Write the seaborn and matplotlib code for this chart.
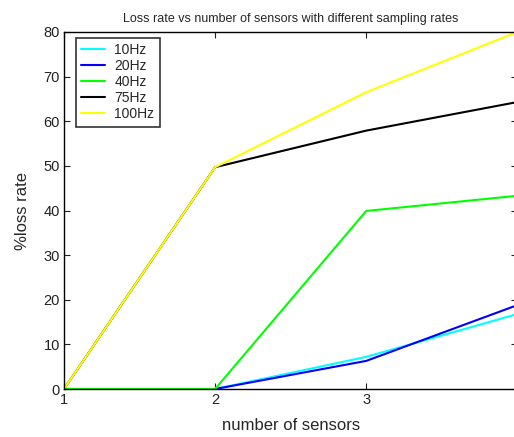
import matplotlib
matplotlib.use("Agg")
import matplotlib.pyplot as plt
import seaborn as sns
import pandas as pd

sensors = [1, 2, 3, 4]
rates = ["10Hz", "20Hz", "40Hz", "75Hz", "100Hz"]
loss_10hz = [0.0, 0.0, 7.2, 16.8]
loss_20hz = [0.0, 0.0, 6.3, 18.8]
loss_40hz = [0.0, 0.0, 39.9, 43.3]
loss_75hz = [0.0, 49.7, 57.9, 64.3]
loss_100hz = [0.0, 49.7, 66.5, 80.0]
colors = ["#00ffff", "#0000ff", "#00ff00", "#000000", "#ffff00"]

series = [loss_10hz, loss_20hz, loss_40hz, loss_75hz, loss_100hz]
df = pd.DataFrame(
    [(n, v, r) for r, vals in zip(rates, series) for n, v in zip(sensors, vals)],
    columns=["sensors", "loss", "rate"],
)

sns.set_style("ticks")
plt.rcParams["font.family"] = ["Liberation Sans", "DejaVu Sans"]

fig = plt.figure(figsize=(5.14, 4.37), dpi=100)
ax = fig.add_axes([0.1245, 0.1098, 0.882, 0.817])

sns.lineplot(data=df, x="sensors", y="loss", hue="rate", hue_order=rates,
             palette=colors, linewidth=1.5, ax=ax)

ax.set_xlim(1, 4)
ax.set_ylim(0, 80)
ax.set_xticks(sensors)
ax.set_yticks(range(0, 81, 10))
ax.tick_params(direction="in", top=True, right=True, length=4, labelsize=10.5,
               colors="#222222", labelcolor="#222222", pad=3)
for s in ax.spines.values():
    s.set_visible(True)
    s.set_linewidth(1.0)
    s.set_color("black")

ax.set_xlabel("number of sensors", fontsize=12, labelpad=8)
ax.set_ylabel("%loss rate", fontsize=12, labelpad=10)
ax.set_title("Loss rate vs number of sensors with different sampling rates",
             fontsize=9, pad=7)

leg = ax.legend(loc="upper left", bbox_to_anchor=(0.026, 0.984), borderaxespad=0,
                fontsize=10, frameon=True, fancybox=False,
                edgecolor="black", handlelength=1.75, handletextpad=0.65,
                labelspacing=0.15, borderpad=0.38)
leg.get_frame().set_linewidth(1.2)
leg.set_title(None)

fig.savefig("out.png", dpi=100)
